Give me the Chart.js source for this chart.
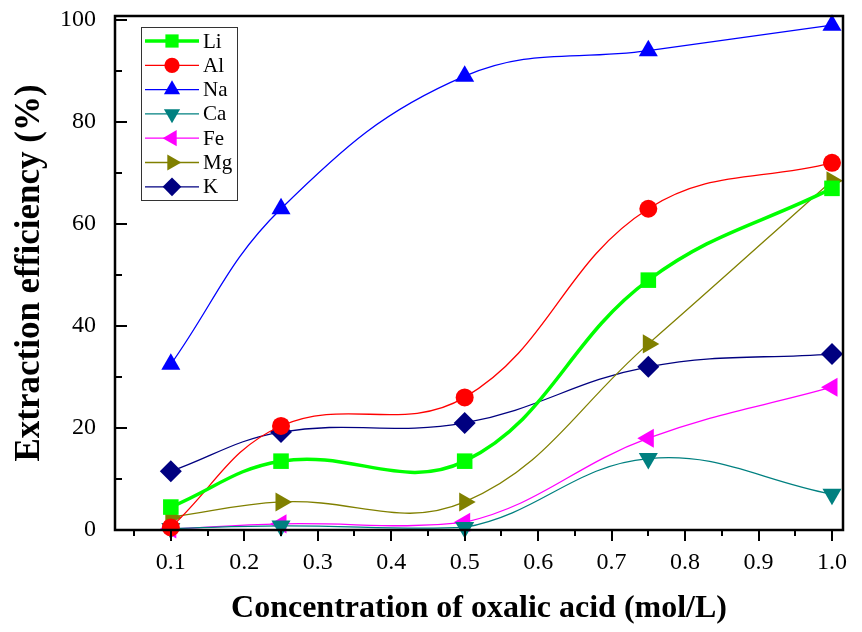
<!DOCTYPE html>
<html>
<head>
<meta charset="utf-8">
<script src="https://cdn.jsdelivr.net/npm/chart.js@4/dist/chart.umd.min.js"></script>
<style>
html, body { margin: 0; padding: 0; background: #fff; }
</style>
</head>
<body>
<canvas id="extractionChart" width="862" height="632"></canvas>
<script>
// concentrations of oxalic acid (mol/L)
const concentrations = [0.1, 0.25, 0.5, 0.75, 1.0];

// extraction efficiency (%) per element
const li = [4.5, 13.5, 13.5, 49, 67];
const al = [0.5, 20.4, 26, 63, 72];
const na = [32.5, 63, 89, 94, 99];
const ca = [0.3, 0.8, 0.5, 14, 7];
const fe = [0.2, 1.2, 1.5, 18, 28];
const mg = [2.5, 5.5, 5.5, 36.5, 68.5];
const k = [11.5, 19.2, 21, 32, 34.5];

// axis ticks
const xTickLabels = [0.1, 0.2, 0.3, 0.4, 0.5, 0.6, 0.7, 0.8, 0.9, 1.0];
const xMinorTicks = [0.05, 0.15, 0.25, 0.35, 0.45, 0.55, 0.65, 0.75, 0.85, 0.95];
const yTickLabels = [0, 20, 40, 60, 80, 100];
const yMinorTicks = [10, 30, 50, 70, 90];

const serif = "'Liberation Serif', 'Times New Roman', serif";

function series(label, values, color, style, rotation, radius, width) {
    return {
        label: label,
        data: concentrations.map((c, i) => ({ x: c, y: values[i] })),
        borderColor: color,
        backgroundColor: color,
        borderWidth: width,
        tension: 0.4,
        pointStyle: style,
        pointRotation: rotation,
        pointRadius: radius,
        pointBorderWidth: 0,
        pointBackgroundColor: color,
        clip: false,
    };
}

// Frame, tick marks and legend box
const framePlugin = {
    id: 'frame',
    afterDraw(chart) {
        const ctx = chart.ctx;
        const a = chart.chartArea;
        const xs = chart.scales.x;
        const ys = chart.scales.y;
        ctx.save();
        ctx.strokeStyle = '#000';
        ctx.lineWidth = 2.5;
        ctx.strokeRect(a.left, a.top, a.right - a.left, a.bottom - a.top);

        ctx.lineWidth = 2;
        ctx.beginPath();
        xTickLabels.forEach(v => {
            const px = Math.round(xs.getPixelForValue(v));
            ctx.moveTo(px, a.bottom); ctx.lineTo(px, a.bottom + 11);
        });
        xMinorTicks.forEach(v => {
            const px = Math.round(xs.getPixelForValue(v));
            ctx.moveTo(px, a.bottom); ctx.lineTo(px, a.bottom + 6);
        });
        yTickLabels.forEach(v => {
            const py = Math.round(ys.getPixelForValue(v));
            ctx.moveTo(a.left, py); ctx.lineTo(a.left + 12, py);
        });
        yMinorTicks.forEach(v => {
            const py = Math.round(ys.getPixelForValue(v));
            ctx.moveTo(a.left, py); ctx.lineTo(a.left + 7, py);
        });
        ctx.stroke();

        // legend
        const boxX = 141, boxY = 27, boxW = 96, boxH = 173;
        ctx.lineWidth = 1;
        ctx.strokeStyle = '#333';
        ctx.fillStyle = '#fff';
        ctx.fillRect(boxX, boxY, boxW, boxH);
        ctx.strokeRect(boxX + 0.5, boxY + 0.5, boxW, boxH);
        ctx.font = '21px ' + serif;
        ctx.textBaseline = 'middle';
        chart.data.datasets.forEach((ds, i) => {
            const y = 41 + i * 24.3;
            ctx.strokeStyle = ds.borderColor;
            ctx.lineWidth = ds.borderWidth;
            ctx.beginPath();
            ctx.moveTo(145, y); ctx.lineTo(199, y);
            ctx.stroke();
            ctx.fillStyle = ds.backgroundColor;
            Chart.helpers.drawPoint(ctx, {
                pointStyle: ds.pointStyle,
                rotation: ds.pointRotation,
                radius: ds.pointRadius * 0.85,
                borderWidth: 0,
            }, 172, y);
            ctx.fillStyle = '#000';
            ctx.fillText(ds.label, 203, y + 1);
        });
        ctx.restore();
    }
};

const ctx = document.getElementById('extractionChart').getContext('2d');
new Chart(ctx, {
    type: 'line',
    data: {
        datasets: [
            series('Li', li, '#00ff00', 'rect', 0, 11, 3.5),
            series('Al', al, '#ff0000', 'circle', 0, 9, 1.3),
            series('Na', na, '#0000ff', 'triangle', 0, 11, 1.3),
            series('Ca', ca, '#008080', 'triangle', 180, 11, 1.3),
            series('Fe', fe, '#ff00ff', 'triangle', -90, 11, 1.3),
            series('Mg', mg, '#808000', 'triangle', 90, 11, 1.3),
            series('K', k, '#000080', 'rectRot', 0, 11, 1.3),
        ],
    },
    options: {
        responsive: false,
        animation: false,
        layout: { padding: { left: 0, right: 19, top: 16, bottom: 0 } },
        plugins: {
            legend: { display: false },
            tooltip: { enabled: false },
        },
        scales: {
            x: {
                type: 'linear',
                min: 0.024,
                max: 1.015,
                grid: { display: false },
                border: { display: false },
                afterBuildTicks: s => { s.ticks = xTickLabels.map(v => ({ value: v })); },
                afterFit: s => {
                    s.height = 102;
                    s.paddingLeft = 0;
                    s.paddingRight = 0;
                },
                ticks: {
                    padding: 10,
                    color: '#000',
                    maxRotation: 0,
                    autoSkip: false,
                    font: { family: serif, size: 24 },
                    callback: v => Number(v).toFixed(1),
                },
                title: {
                    display: true,
                    text: 'Concentration of oxalic acid (mol/L)',
                    color: '#000',
                    font: { family: serif, size: 32, weight: 'bold' },
                    padding: { top: 4 },
                },
            },
            y: {
                min: 0,
                max: 100.8,
                grid: { display: false },
                border: { display: false },
                afterBuildTicks: s => { s.ticks = yTickLabels.map(v => ({ value: v })); },
                afterFit: s => {
                    s.width = 115;
                    s.paddingTop = 0;
                    s.paddingBottom = 0;
                },
                ticks: {
                    padding: 11,
                    color: '#000',
                    font: { family: serif, size: 24 },
                },
                title: {
                    display: true,
                    text: 'Extraction efficiency (%)',
                    color: '#000',
                    font: { family: serif, size: 35, weight: 'bold' },
                    padding: { top: 9 },
                },
            },
        },
    },
    plugins: [framePlugin],
});
</script>
</body>
</html>
